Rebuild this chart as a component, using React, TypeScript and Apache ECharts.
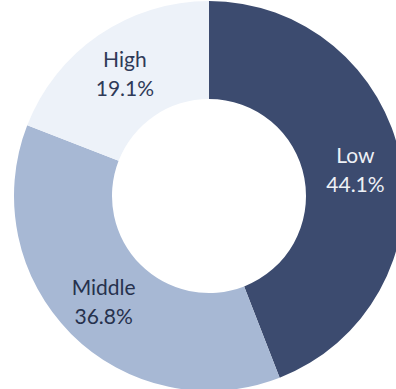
import React, { useEffect, useRef } from "react";
import * as echarts from "echarts";

const categories = ["Low", "Middle", "High"];
const values = [44.1, 36.8, 19.1];
const colors = ["#3c4b6f", "#a7b8d4", "#edf2f9"];
const labelColors = ["#eef1f6", "#26314d", "#2f3a58"];

export default function App() {
  const ref = useRef<HTMLDivElement>(null);
  useEffect(() => {
    document.body.style.margin = "0";
    const chart = echarts.init(ref.current!, null, { renderer: "svg" });
    chart.setOption({
      animation: false,
      backgroundColor: "#ffffff",
      series: [
        {
          type: "pie",
          center: [209, 196],
          radius: [97, 195],
          startAngle: 90,
          clockwise: true,
          avoidLabelOverlap: false,
          data: categories.map((c, i) => ({
            name: c,
            value: values[i],
            itemStyle: { color: colors[i] },
            label: { color: labelColors[i] },
          })),
          label: {
            show: true,
            position: "inside",
            formatter: (p: any) => `${p.name}\n${p.value.toFixed(1)}%`,
            fontFamily: "Lato, 'Noto Sans', sans-serif",
            fontSize: 21,
            lineHeight: 29,
            align: "center",
          },
          labelLine: { show: false },
          emphasis: { disabled: true },
        },
      ],
    });
    return () => chart.dispose();
  }, []);
  return (
    <div
      ref={ref}
      style={{ position: "absolute", left: 0, top: 0, width: 396, height: 389 }}
    />
  );
}
